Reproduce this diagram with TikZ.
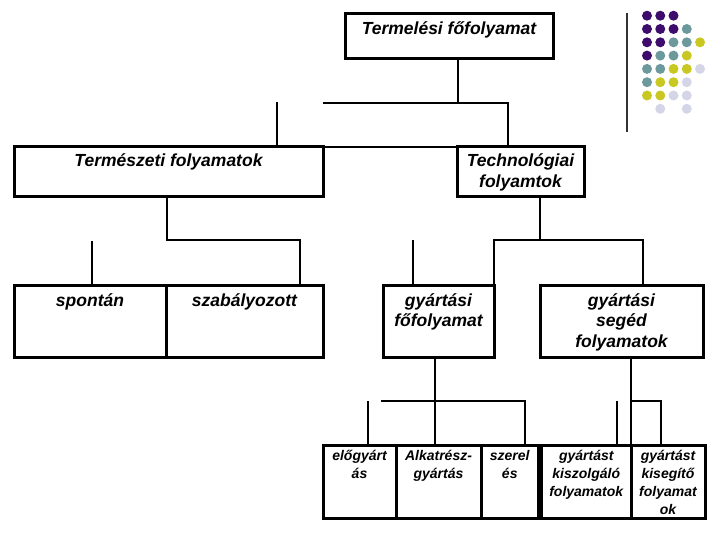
\documentclass[tikz,border=0pt]{standalone}
\usepackage{fontspec}
\setmainfont{Liberation Sans}
\usepackage{xcolor}
\usepackage{tikz}
\usetikzlibrary{positioning}
\definecolor{dotP}{HTML}{3E0C6C}
\definecolor{dotT}{HTML}{6C9A9C}
\definecolor{dotY}{HTML}{C9C822}
\definecolor{dotL}{HTML}{D5D5E8}
\definecolor{dotN}{HTML}{FFFFFF}
\definecolor{procgrey}{HTML}{333333}

\begin{document}
\begin{tikzpicture}[
  x=1pt,y=-1pt,
  box/.style={draw,line width=3pt,outer sep=0pt,inner xsep=2pt,inner ysep=0pt,align=center,
    font=\bfseries\itshape\fontsize{17.5}{20.5}\selectfont},
  sbox/.style={box,font=\bfseries\itshape\fontsize{14}{18}\selectfont},
  link/.style={line width=2.2pt}
]
\useasboundingbox (0,0) rectangle (720,540);

\node[box,text height=21pt,text depth=24pt,minimum width=208pt,anchor=north west] (root) at (345,14) {Termelési főfolyamat};
\node[box,text height=20pt,text depth=30pt,minimum width=309pt,anchor=north west] (term) at (14,147) {Természeti folyamatok};
\node[box,text height=40.5pt,text depth=9.5pt,minimum width=127pt,right=134pt of term] (tech) {Technológiai\\folyamtok};

\node[box,text height=21pt,text depth=51pt,minimum width=152pt,below=88pt of term.south west,anchor=north west] (spontan) {spontán};
\node[box,text height=21pt,text depth=51pt,minimum width=157pt,right=0pt of spontan] (szab) {szabályozott};
\node[box,text height=41.5pt,text depth=30.5pt,minimum width=111pt,right=60pt of szab] (gyfo) {gyártási\\főfolyamat};
\node[box,text height=62pt,text depth=10pt,minimum width=163pt,right=46pt of gyfo] (seged) {gyártási\\segéd\\folyamatok};

\node[sbox,text height=33pt,text depth=40pt,minimum width=73pt,below=88pt of szab.south east,anchor=north west] (elo) {előgyárt\\ás};
\node[sbox,text height=33pt,text depth=40pt,minimum width=85pt,right=0pt of elo] (alk) {Alkatrész-\\gyártás};
\node[sbox,text height=33pt,text depth=40pt,minimum width=57.5pt,right=0pt of alk] (szer) {szerel\\és};
\node[sbox,text height=51pt,text depth=22pt,minimum width=89.5pt,right=3pt of szer] (kisz) {gyártást\\kiszolgáló\\folyamatok};
\node[sbox,text height=69pt,text depth=4pt,minimum width=74pt,right=0pt of kisz] (kiseg) {gyártást\\kisegítő\\folyamat\\ok};

% top level
\draw[link] ([xshift=9pt]root.south) -- ++(0,44) coordinate (rj);
\draw[link] (term.north east |- rj) -| ([xshift=-12.5pt]tech.north);
\draw[link] (term.north east) -- ([xshift=-12.5pt]tech.north);
\draw[link] ([xshift=108.5pt]term.north) -- ++(0,-45);

% second level
\draw[link] ([xshift=-1.5pt]term.south) -- ++(0,43) -| ([xshift=55.5pt]szab.north);
\draw[link] ([xshift=2pt]spontan.north) -- ++(0,-44);
\draw[link] ([xshift=19.5pt]tech.south) -- ++(0,43) coordinate (tb);
\draw[link] (gyfo.north east) |- (tb) -| ([xshift=21.5pt]seged.north);
\draw[link] ([xshift=-25.5pt]gyfo.north) -- ++(0,-45);

% third level
\draw[link] ([xshift=-3.5pt]gyfo.south) -- ([xshift=-3.5pt]alk.north);
\path ([xshift=-3.5pt]gyfo.south) ++(0,44) coordinate (gb);
\draw[link] ([xshift=-54pt]gb) -| ([xshift=15.25pt]szer.north);
\draw[link] ([xshift=8.5pt]elo.north) -- ++(0,-44);
\draw[link] ([xshift=30.75pt]kisz.north) -- ++(0,-44);
\draw[link] ([xshift=9.5pt]seged.south) -- (kiseg.north west);
\draw[link] ([xshift=9.5pt]seged.south) ++(0,44) -| ([xshift=-7pt]kiseg.north);

% corner dots
\draw[procgrey,line width=1.2pt] (627,13) -- (627,132);
\foreach \row [count=\r from 0] in {{P,P,P,N,N},{P,P,P,T,N},{P,P,T,T,Y},{P,T,T,Y,N},{T,T,Y,Y,L},{T,Y,Y,L,N},{Y,Y,L,L,N},{N,L,N,L,N}}
  \foreach \c [count=\k from 0] in \row
    \fill[dot\c] (647+13.25*\k,15.7+13.3*\r) circle[radius=5pt];
\end{tikzpicture}
\end{document}
